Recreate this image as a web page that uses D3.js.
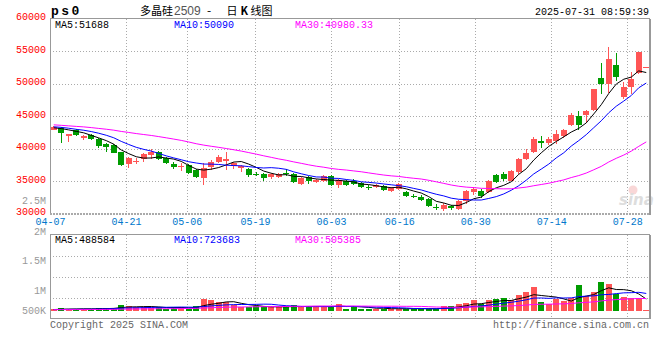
<!DOCTYPE html>
<html><head><meta charset="utf-8">
<script src="https://cdn.jsdelivr.net/npm/d3@7"></script>
<style>body{margin:0;background:#fff}svg{display:block}</style>
</head><body><svg id="c" width="660" height="360"></svg>
<script>
// ---------------- data ----------------
const dates = ["04-07","04-08","04-09","04-10","04-11","04-14","04-15","04-16","04-17","04-18","04-21","04-22","04-23","04-24","04-25","04-28","04-29","04-30",
"05-06","05-07","05-08","05-09","05-12","05-13","05-14","05-15","05-16","05-19","05-20","05-21","05-22","05-23","05-26","05-27","05-28","05-29","05-30",
"06-03","06-04","06-05","06-06","06-09","06-10","06-11","06-12","06-13","06-16","06-17","06-18","06-19","06-20","06-23","06-24","06-25","06-26","06-27","06-30",
"07-01","07-02","07-03","07-04","07-07","07-08","07-09","07-10","07-11","07-14","07-15","07-16","07-17","07-18","07-21","07-22","07-23","07-24","07-25","07-28","07-29","07-30","07-31"];
const openP = [42900,43200,41870,42880,41560,42020,41520,40660,40560,39440,37620,37980,38430,39000,39390,38530,37570,37170,37420,36710,35400,37220,37980,
38130,37370,36960,36870,36150,36100,35550,35650,36250,36100,34480,35550,34840,34990,35700,34330,34940,35040,34690,34030,34030,34180,33420,33830,33270,32710,32610,32260,31000,
30640,31100,30720,31900,33270,33520,33270,35850,36050,35040,36310,38380,39490,41160,40860,41110,41870,43540,45010,45160,45880,50900,49950,52900,47910,49430,51630,52550];
const highP = [43500,43300,42300,43050,42130,42180,41600,40860,40760,39500,38700,38480,39340,39850,39600,38730,37930,37720,37620,36800,37720,38230,38990,
39440,37980,37470,36960,36460,36200,36200,36300,36810,36200,35600,35700,35350,35950,35850,35350,35200,35300,34840,34330,34480,34330,34080,34640,33420,33020,32860,32410,31400,
31650,31300,32100,33680,34030,33780,35200,36050,36460,36710,38480,40000,41770,41870,41770,42880,43040,45410,45820,45920,49200,53200,55690,54730,50200,51830,54900,52550];
const lowP = [42800,40850,41000,41950,41370,41270,40100,39490,39300,37320,37070,37620,37920,38430,38230,37620,36910,36610,36150,35400,34330,36710,37830,
36700,36800,36460,35550,35700,34940,35300,35450,35700,34690,34330,34480,34690,34840,34230,33880,34280,34430,33930,33680,33880,33420,33270,33680,32510,32310,31900,31000,30600,
30380,30500,30600,31400,32800,32310,33170,34690,35040,34940,36100,38230,39340,40100,40500,40660,41670,43390,42780,43900,45700,48430,48500,50460,47560,48430,51500,52550];
const closeP = [43350,42380,42280,42070,41970,41420,40400,40200,39340,37520,38580,38030,39140,39440,38330,37720,37220,37370,36300,35550,36960,37930,38630,
38330,37720,37370,35950,36100,35500,36050,36050,36200,34790,35400,34990,35200,35750,34330,35200,34430,34590,34080,33930,34330,33570,33930,34480,32660,32610,32060,31150,30900,
31370,30850,31880,33420,33830,32660,35040,34840,35300,36560,38380,39340,41520,40860,41520,42180,42880,45210,43690,45720,49080,50000,53820,50960,49430,50720,54780,52550];
const volume = [82000,123000,82000,82000,82000,82000,123000,123000,123000,246000,205000,164000,164000,135000,164000,82000,164000,164000,82000,205000,492000,439000,369000,
357000,246000,164000,164000,205000,164000,164000,164000,176000,234000,176000,176000,176000,176000,193000,275000,94000,193000,94000,94000,94000,94000,94000,94000,94000,94000,94000,94000,94000,
193000,193000,275000,316000,439000,275000,439000,480000,521000,439000,644000,767000,972000,357000,275000,480000,398000,521000,1050000,610000,780000,1200000,1110000,700000,590000,550000,550000,53000];
// closes / volumes of the 29 sessions before 04-07 (only used for the moving averages)
const preCloses = [44600,44800,44500,44300,44700,44200,43900,43600,43400,43300,43200,43500,43800,43600,43300,43100,43400,43700,43500,43400,43300,43600,43700,43400,43450,43000,43300,43200,43100];
const preVolumes = [45000,52000,48000,60000,55000,42000,50000,58000,47000,53000,61000,49000,44000,56000,52000,48000,63000,57000,50000,46000,54000,59000,51000,47000,62000,55000,49000,58000,53000];
const priceTicks = [30000,35000,40000,45000,50000,55000,60000];
const volTickValues = [2500000,2000000,1500000,1000000,500000];
const volTickLabels = ["2.5M","2M","1.5M","1M","500K"];
const dateLabels = ["04-07","04-21","05-06","05-19","06-03","06-16","06-30","07-14","07-28"];
const maPeriods = [5,10,30];
const priceLegend = ["MA5:51688","MA10:50090","MA30:40980.33"];
const volLegend = ["MA5:488584","MA10:723683","MA30:505385"];

// ---------------- layout ----------------
const L = 50, R = 650, mTop = 18.5, mBot = 213.5, vTop = 234.5, vBot = 318.5, vBase = 311;
const FONT = "'Liberation Mono', 'DejaVu Sans Mono', monospace";
const FS = 10;
const UP = "#ff5555", DOWN = "#009c00", GRID = "#aaa", FRAME = "#999";
const maColors = ["#000000", "#0000ff", "#ff00ff"];

const svg = d3.select("#c");
const xBand = d3.scaleBand().domain(dates).range([L, R]).paddingInner(0.2).paddingOuter(0.1);
const xIdx = d3.scaleLinear().domain([0, dates.length - 1]).range([L, R]);
const yP = d3.scaleLinear().domain([30000, 60000]).range([mBot, mTop]);
const yV = d3.scaleLinear().domain([0, 1000000]).range([vBase, vBase - 24.4]);
const yVLab = d3.scaleLinear().domain([500000,1000000,1500000,2000000,2500000]).range([310.7,290.7,260,231.7,200]);

const cx = d => xBand(d) + xBand.bandwidth() / 2;
const isUp = i => closeP[i] >= openP[i];

function movingAvg(pre, vals, n) {
  const all = pre.concat(vals), off = pre.length;
  return vals.map((_, i) => d3.mean(all.slice(i + off - n + 1, i + off + 1)));
}

// ---------------- grid ----------------
const grid = svg.append("g").attr("stroke", GRID).attr("stroke-dasharray", "1,2").attr("shape-rendering", "crispEdges");
const gridIdx = dateLabels.slice(1).map(d => dates.indexOf(d));
gridIdx.forEach(i => {
  const x = Math.round(xIdx(i)) + 0.5;
  grid.append("line").attr("x1", x).attr("x2", x).attr("y1", mTop).attr("y2", mBot);
  grid.append("line").attr("x1", x).attr("x2", x).attr("y1", vTop).attr("y2", vBot);
});
priceTicks.slice(1, -1).forEach(v => {
  const y = Math.round(yP(v)) + 0.5;
  grid.append("line").attr("x1", L).attr("x2", R).attr("y1", y).attr("y2", y);
});
d3.range(1, 4).forEach(k => {
  const y = Math.round(vTop + (vBot - vTop) * k / 4) + 0.5;
  grid.append("line").attr("x1", L).attr("x2", R).attr("y1", y).attr("y2", y);
});

// watermark
svg.append("circle").attr("cx", 633).attr("cy", 190).attr("r", 4.5).attr("fill", "#f3b0b0").attr("opacity", 0.5);
svg.append("text").attr("x", 619).attr("y", 205).text("sina")
  .attr("font-family", "'DejaVu Sans', sans-serif").attr("font-style", "italic").attr("font-weight", "bold")
  .attr("font-size", 15).attr("fill", "#dddddd");

// ---------------- frames ----------------
const fr = svg.append("g").attr("stroke", FRAME).attr("fill", "none").attr("shape-rendering", "crispEdges");
fr.append("line").attr("x1", L).attr("x2", R).attr("y1", mTop).attr("y2", mTop);
fr.append("line").attr("x1", L + 0.5).attr("x2", L + 0.5).attr("y1", mTop).attr("y2", mBot);
fr.append("line").attr("x1", R - 0.5).attr("x2", R - 0.5).attr("y1", mTop).attr("y2", mBot + 1).attr("stroke-width", 2);
fr.append("line").attr("x1", L).attr("x2", R).attr("y1", mBot).attr("y2", mBot).attr("stroke-width", 2).attr("stroke-dasharray", "2,1").attr("stroke", "#aaa");
fr.append("line").attr("x1", L).attr("x2", R).attr("y1", vTop).attr("y2", vTop);
fr.append("line").attr("x1", L).attr("x2", R).attr("y1", vBot).attr("y2", vBot);
fr.append("line").attr("x1", L + 0.5).attr("x2", L + 0.5).attr("y1", vTop).attr("y2", vBot);
fr.append("line").attr("x1", R - 0.5).attr("x2", R - 0.5).attr("y1", vTop).attr("y2", vBot).attr("stroke-width", 2);

// ---------------- candles ----------------
const cg = svg.append("g").attr("shape-rendering", "crispEdges");
dates.forEach((d, i) => {
  const col = isUp(i) ? UP : DOWN;
  const x = Math.floor(cx(d)) + 0.5;
  cg.append("line").attr("x1", x).attr("x2", x).attr("y1", yP(highP[i])).attr("y2", yP(lowP[i])).attr("stroke", col);
  const yTop = yP(Math.max(openP[i], closeP[i])), yBotB = yP(Math.min(openP[i], closeP[i]));
  cg.append("rect").attr("x", xBand(d)).attr("width", xBand.bandwidth())
    .attr("y", yTop).attr("height", Math.max(1, yBotB - yTop)).attr("fill", col);
});

// MA lines (price)
svg.append("clipPath").attr("id", "clipM").append("rect").attr("x", L + 1).attr("y", mTop).attr("width", R - L - 2).attr("height", mBot - mTop);
maPeriods.forEach((n, k) => {
  const ma = movingAvg(preCloses, closeP, n);
  svg.append("path").datum(ma).attr("clip-path", "url(#clipM)")
    .attr("fill", "none").attr("stroke", maColors[k]).attr("stroke-width", 1)
    .attr("d", d3.line().x((v, i) => cx(dates[i])).y(v => yP(v)));
});

// ---------------- volume ----------------
const vg = svg.append("g").attr("shape-rendering", "crispEdges");
dates.forEach((d, i) => {
  const y = yV(volume[i]);
  vg.append("rect").attr("x", xBand(d)).attr("width", xBand.bandwidth())
    .attr("y", y).attr("height", Math.max(1, vBase - y)).attr("fill", isUp(i) ? UP : DOWN);
});
maPeriods.forEach((n, k) => {
  const ma = movingAvg(preVolumes, volume, n);
  svg.append("path").datum(ma).attr("fill", "none").attr("stroke", maColors[k]).attr("stroke-width", 1)
    .attr("d", d3.line().x((v, i) => cx(dates[i])).y(v => yV(v)));
});

// ---------------- axes / text ----------------
const txt = (x, y, s, fill, anchor) => svg.append("text").attr("x", x).attr("y", y).text(s)
  .attr("fill", fill).attr("text-anchor", anchor || "start").attr("font-family", FONT).attr("font-size", FS);

const ax = svg.append("g").attr("transform", `translate(${L},-2)`)
  .call(d3.axisLeft(yP).tickValues(priceTicks).tickSize(0).tickPadding(4).tickFormat(d3.format("d")));
ax.select(".domain").remove();
ax.selectAll("text").attr("fill", "#f00").attr("font-family", FONT).attr("font-size", FS);

const axV = svg.append("g").attr("transform", `translate(${L},0)`)
  .call(d3.axisLeft(yVLab).tickValues(volTickValues).tickSize(0).tickPadding(4).tickFormat((v, i) => volTickLabels[i]));
axV.select(".domain").remove();
axV.selectAll("text").attr("fill", "#999").attr("font-family", FONT).attr("font-size", FS);

const axX = svg.append("g").attr("transform", `translate(0,${mBot})`)
  .call(d3.axisBottom(xIdx).tickValues(dateLabels.map(d => dates.indexOf(d))).tickSize(0).tickPadding(4).tickFormat(i => dates[i]));
axX.select(".domain").remove();
axX.selectAll("text").attr("fill", "#0077cc").attr("font-family", FONT).attr("font-size", FS);

// titles
svg.append("text").attr("x", 51).attr("y", 15).text("ps0").attr("font-family", FONT).attr("font-weight", "bold")
  .attr("font-size", 13).attr("letter-spacing", "2.5px").attr("fill", "#000");
const cjk = "'Noto Sans CJK SC', sans-serif";
svg.append("text").attr("x", 140).attr("y", 15).text("多晶硅").attr("font-family", cjk).attr("font-size", 11).attr("fill", "#000");
svg.append("text").attr("x", 174).attr("y", 15).text("2509").attr("font-family", "'Liberation Sans', sans-serif").attr("font-size", 12).attr("fill", "#555");
svg.append("text").attr("x", 207).attr("y", 15).text("-").attr("font-family", cjk).attr("font-size", 12).attr("fill", "#000");
const t2 = svg.append("text").attr("y", 15).attr("font-family", cjk).attr("font-size", 11).attr("fill", "#000");
[["日",226.5],["K",240.5],["线",250.5],["图",261.5]].forEach(([s, x]) => t2.append("tspan").attr("x", x).text(s).attr("font-weight", s === "K" ? "bold" : "normal"));
txt(649, 15, "2025-07-31 08:59:39", "#000", "end");

// legends
const legX = [55, 174, 295];
priceLegend.forEach((s, k) => txt(legX[k], 27.5, s, maColors[k]));
volLegend.forEach((s, k) => txt(legX[k], 243, s, maColors[k]));

// footer
txt(50, 328, "Copyright 2025 SINA.COM", "#666");
txt(649, 328, "http://finance.sina.com.cn", "#666", "end");
</script></body></html>
